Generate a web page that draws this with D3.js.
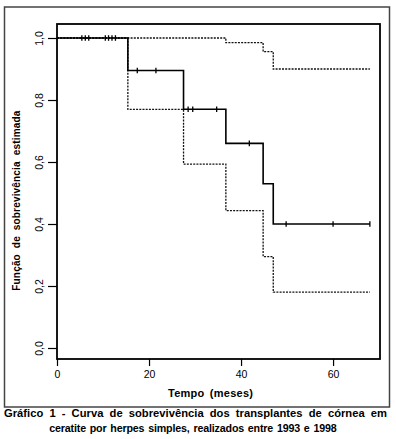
<!DOCTYPE html>
<html>
<head>
<meta charset="utf-8">
<script src="https://cdn.jsdelivr.net/npm/d3@7"></script>
<style>
  html, body { margin: 0; padding: 0; background: #fff; }
  svg { display: block; }
  text { font-family: "Liberation Sans", Arial, Helvetica, sans-serif; fill: #000; }
</style>
</head>
<body>
<svg id="chart" width="396" height="439"></svg>
<script>
// ---- data ----
const eventTimes = [15.4, 27.5, 36.7, 44.8, 47.0];
const survival   = [1.0, 0.895, 0.77, 0.66, 0.53, 0.40];
const upperCI    = [1.0, 1.0, 1.0, 0.985, 0.956, 0.90];
const lowerCI    = [1.0, 0.77, 0.593, 0.443, 0.295, 0.18];
const censorTimes = [5.4, 6.15, 6.9, 10.5, 11.2, 11.95, 12.7, 17.45, 21.5, 28.5, 29.5, 34.7, 41.8, 49.8, 60.0, 68.0];
const endTime = 68.0;
const xTicks = [0, 20, 40, 60];
const yTicks = [0, 0.2, 0.4, 0.6, 0.8, 1.0];
const yTickLabels = ["0,0", "0,2", "0,4", "0,6", "0,8", "1,0"];
const xTitle = "Tempo (meses)";
const yTitle = "Função de sobrevivência estimada";
const caption = ["Gráfico 1 - Curva de sobrevivência dos transplantes de córnea em",
                 "ceratite por herpes simples, realizados entre 1993 e 1998"];

const svg = d3.select("#chart");

// outer frame
svg.append("rect").attr("x", 4.5).attr("y", 7).attr("width", 385).attr("height", 400)
  .attr("fill", "none").attr("stroke", "#444").attr("stroke-width", 1.5);

const box = {left: 57, right: 380, top: 24, bottom: 359};
const x = d3.scaleLinear().domain([0, 70.2]).range([box.left, box.right]);
const y = d3.scaleLinear().domain([0, 1]).range([348, 38]);

// step series
function stepPoints(vals) {
  const pts = [[0, vals[0]]];
  eventTimes.forEach((t, i) => pts.push([t, vals[i + 1]]));
  pts.push([endTime, vals[vals.length - 1]]);
  return pts;
}
const line = d3.line().x(d => x(d[0])).y(d => y(d[1])).curve(d3.curveStepAfter);

const g = svg.append("g");
[upperCI, lowerCI].forEach(v => {
  g.append("path").attr("d", line(stepPoints(v)))
    .attr("fill", "none").attr("stroke", "#111").attr("stroke-width", 1.3)
    .attr("stroke-dasharray", "2,1.2");
});
g.append("path").attr("d", line(stepPoints(survival)))
  .attr("fill", "none").attr("stroke", "#000").attr("stroke-width", 1.6);

// censor marks
function survAt(t) {
  let s = survival[0];
  eventTimes.forEach((e, i) => { if (t >= e) s = survival[i + 1]; });
  return s;
}
g.selectAll("line.censor").data(censorTimes).enter().append("line")
  .attr("class", "censor")
  .attr("x1", d => x(d)).attr("x2", d => x(d))
  .attr("y1", d => y(survAt(d)) - 2.8).attr("y2", d => y(survAt(d)) + 2.8)
  .attr("stroke", "#000").attr("stroke-width", 1.3);

// plot box
svg.append("rect").attr("x", box.left).attr("y", box.top)
  .attr("width", box.right - box.left).attr("height", box.bottom - box.top)
  .attr("fill", "none").attr("stroke", "#000").attr("stroke-width", 1.8);

// y axis
const yAxis = svg.append("g").attr("transform", `translate(${box.left},0)`)
  .call(d3.axisLeft(y).tickValues(yTicks).tickSize(9).tickSizeOuter(0)
    .tickFormat((d, i) => yTickLabels[i]));
yAxis.select(".domain").remove();
yAxis.selectAll(".tick line").attr("stroke", "#000").attr("stroke-width", 1.2);
yAxis.selectAll(".tick text")
  .attr("x", 0).attr("dy", null).attr("y", -14)
  .attr("transform", "rotate(-90)")
  .attr("text-anchor", "middle")
  .style("font-size", "10.5px");

// x axis
const xAxis = svg.append("g").attr("transform", `translate(0,${box.bottom})`)
  .call(d3.axisBottom(x).tickValues(xTicks).tickSize(7).tickSizeOuter(0));
xAxis.select(".domain").remove();
xAxis.selectAll(".tick line").attr("stroke", "#000").attr("stroke-width", 1.2);
xAxis.selectAll(".tick text").attr("y", 18.5).attr("dy", null)
  .style("font-size", "10.5px");
svg.selectAll(".tick text").attr("font-family", null);

// titles
svg.append("text").attr("x", 210.5).attr("y", 397)
  .attr("text-anchor", "middle").style("font-size", "11px").style("font-weight", "bold")
  .style("word-spacing", "2px")
  .attr("textLength", 85).attr("lengthAdjust", "spacing").text(xTitle);
svg.append("text").attr("transform", "translate(20,200.7) rotate(-90)")
  .attr("text-anchor", "middle").style("font-size", "10px").style("font-weight", "bold")
  .style("word-spacing", "3px")
  .attr("textLength", 180).attr("lengthAdjust", "spacing").text(yTitle);

// caption
const capLen = [383, 287.5];
const capWs = ["3px", "1px"];
const capSize = ["11.2px", "10.7px"];
caption.forEach((c, i) => {
  svg.append("text").attr("x", 195.5 - (i ? 2.5 : 0)).attr("y", 417 + i * 14.5)
    .attr("text-anchor", "middle").style("font-size", capSize[i]).style("font-weight", "bold")
    .style("word-spacing", capWs[i])
    .attr("textLength", capLen[i]).attr("lengthAdjust", "spacing").text(c);
});
</script>
</body>
</html>
